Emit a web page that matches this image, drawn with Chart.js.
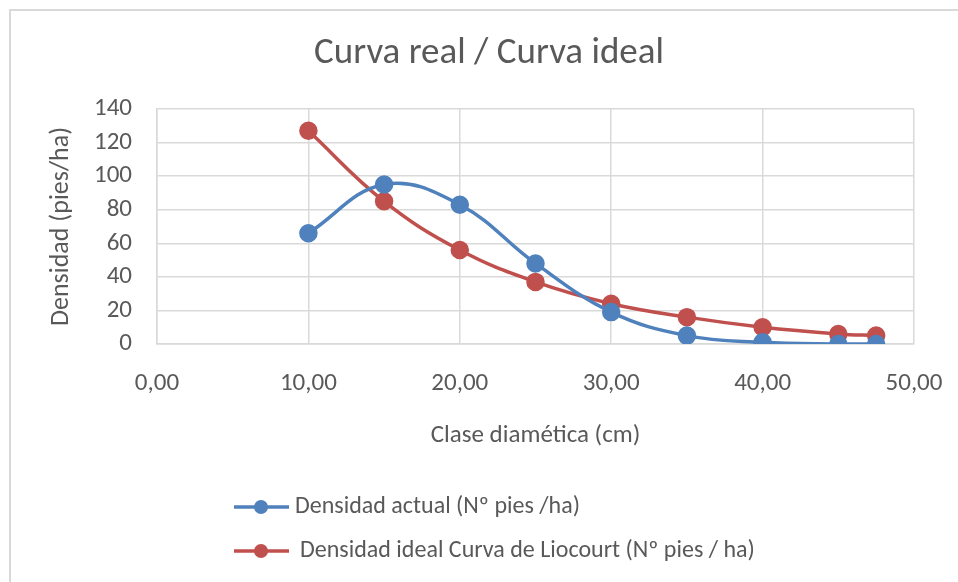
<!DOCTYPE html>
<html>
<head>
<meta charset="utf-8">
<script src="https://cdn.jsdelivr.net/npm/chart.js@4"></script>
<style>
  html, body { margin: 0; padding: 0; background: #fff; }
  #wrap { position: relative; width: 958px; height: 582px; overflow: hidden; }
  #frame { position: absolute; left: 9px; top: 9px; width: 1000px; height: 700px;
           border-left: 2px solid #d9d9d9; border-top: 2px solid #d9d9d9; }
  canvas { position: absolute; left: 0; top: 0; }
</style>
</head>
<body>
<div id="wrap">
  <div id="frame"></div>
  <canvas id="myChart" width="958" height="582"></canvas>
</div>
<script>
// diameter classes (cm)
const clases = [10, 15, 20, 25, 30, 35, 40, 45, 47.5];
// density values (pies/ha)
const densidadActual = [66, 95, 83, 48, 19, 5, 1, 0, 0];
const densidadIdeal = [127, 85, 56, 37, 24, 16, 10, 6, 5];
const serieNames = ["Densidad actual (Nº pies /ha)", "Densidad ideal Curva de Liocourt (Nº pies / ha)"];
const serieColors = ["#4f81bd", "#c0504d"];
const chartTitle = "Curva real / Curva ideal";

const font = "Carlito, 'Liberation Sans Narrow', 'DejaVu Sans Condensed', sans-serif";

function toPoints(vals) {
    let pts = [];
    for (let i = 0; i < clases.length; i++) {
        pts.push({ x: clases[i], y: vals[i] });
    }
    return pts;
}

// title + legend drawn by hand so the legend can stack vertically
const extras = {
    id: 'extras',
    afterDraw(chart) {
        const ctx = chart.ctx;
        ctx.save();
        ctx.fillStyle = '#595959';
        ctx.font = '37px ' + font;
        ctx.textAlign = 'center';
        ctx.textBaseline = 'middle';
        ctx.fillText(chartTitle, 489, 54);

        const rows = [507, 551];
        const textX = [295, 300];
        chart.data.datasets.forEach((ds, i) => {
            let y = rows[i];
            ctx.strokeStyle = ds.borderColor;
            ctx.lineWidth = 3.5;
            ctx.beginPath();
            ctx.moveTo(234, y);
            ctx.lineTo(289, y);
            ctx.stroke();
            ctx.fillStyle = ds.borderColor;
            ctx.beginPath();
            ctx.arc(261, y, 7, 0, Math.PI * 2);
            ctx.fill();
            ctx.fillStyle = '#595959';
            ctx.font = '24px ' + font;
            ctx.textAlign = 'left';
            ctx.fillText(ds.label, textX[i], y);
        });
        ctx.restore();
    }
};

new Chart("myChart", {
    type: "scatter",
    data: {
        datasets: [
            {
                label: serieNames[0],
                data: toPoints(densidadActual),
                showLine: true,
                borderColor: serieColors[0],
                backgroundColor: serieColors[0],
                borderWidth: 3.5,
                pointRadius: 7.5,
                pointHoverRadius: 7.5,
                tension: 0.4
            },
            {
                label: serieNames[1],
                data: toPoints(densidadIdeal),
                showLine: true,
                borderColor: serieColors[1],
                backgroundColor: serieColors[1],
                borderWidth: 3.5,
                pointRadius: 7.5,
                pointHoverRadius: 7.5,
                tension: 0.4
            }
        ]
    },
    plugins: [extras],
    options: {
        responsive: false,
        animation: false,
        layout: { padding: { left: 40, top: 109, right: 44, bottom: 131 } },
        plugins: {
            legend: { display: false },
            title: { display: false },
            tooltip: { enabled: false }
        },
        scales: {
            x: {
                type: 'linear',
                min: 0,
                max: 50,
                ticks: {
                    stepSize: 10,
                    padding: 25,
                    color: '#595959',
                    font: { family: font, size: 25 },
                    callback: (v) => v.toFixed(2).replace('.', ',')
                },
                grid: { color: '#d9d9d9', lineWidth: 1.5, drawTicks: false },
                border: { color: '#d9d9d9', width: 1.5 },
                title: {
                    display: true,
                    text: 'Clase diamética (cm)',
                    color: '#595959',
                    font: { family: font, size: 25 },
                    padding: 0
                },
                afterFit: (s) => {
                    s.height = 107;
                    s.paddingLeft = 0;
                    s.paddingRight = 0;
                }
            },
            y: {
                min: 0,
                max: 140,
                ticks: {
                    stepSize: 20,
                    padding: 25,
                    color: '#595959',
                    font: { family: font, size: 25 }
                },
                grid: { color: '#d9d9d9', lineWidth: 1.5, drawTicks: false },
                border: { color: '#d9d9d9', width: 1.5 },
                title: {
                    display: true,
                    text: 'Densidad (pies/ha)',
                    color: '#595959',
                    font: { family: font, size: 26 },
                    padding: { top: 6, bottom: 0 }
                },
                afterFit: (s) => {
                    s.width = 117;
                    s.paddingTop = 0;
                    s.paddingBottom = 0;
                }
            }
        }
    }
});
</script>
</body>
</html>
